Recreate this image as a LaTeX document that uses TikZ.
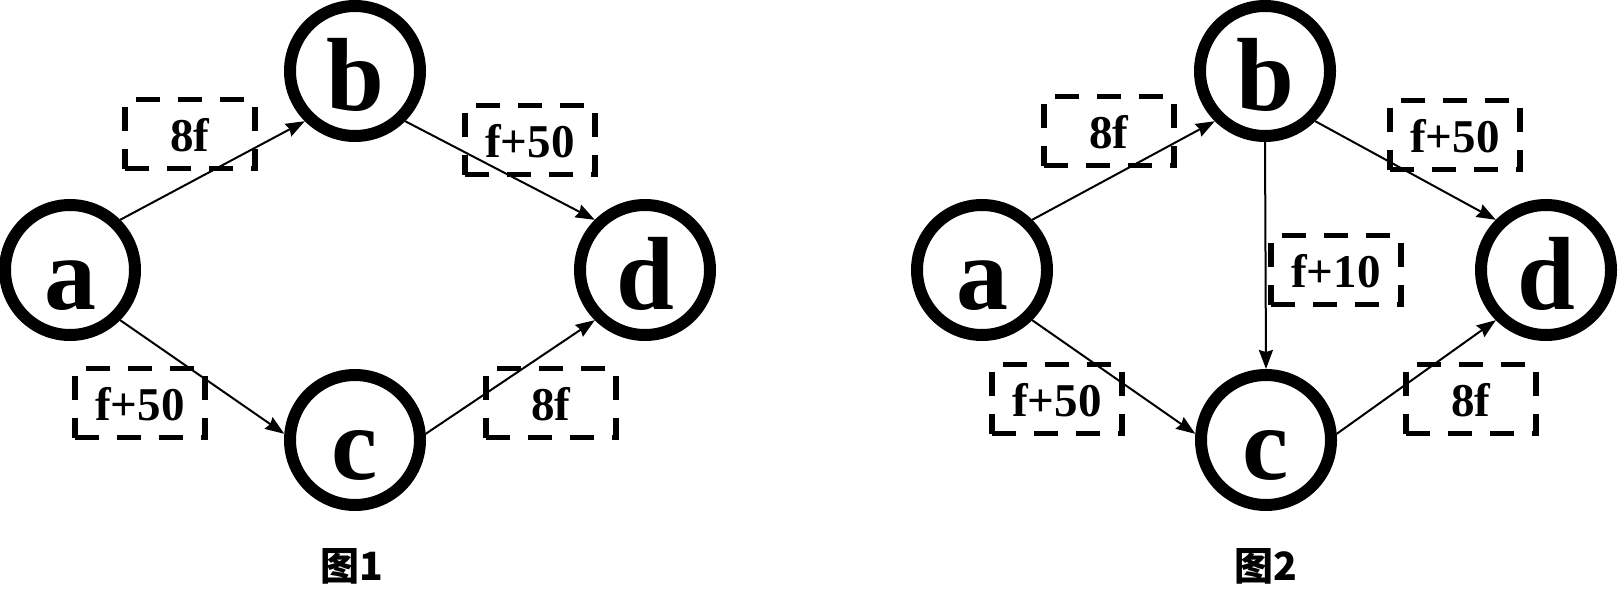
\documentclass[tikz,border=0pt]{standalone}
\usepackage{fontspec}
\setmainfont{Liberation Serif}
\newfontfamily\cjk{Noto Sans CJK SC}
\usetikzlibrary{arrows.meta}
\begin{document}
\begin{tikzpicture}[x=1pt,y=-1pt,
  vert/.style={circle,draw,line width=12pt,minimum size=130pt,inner sep=0pt,
    font=\fontsize{104}{110}\selectfont\bfseries,text height=78pt,text depth=0pt},
  wlabel/.style={draw,line width=5.5pt,dash pattern=on 24pt off 18pt,
    minimum width=130pt,minimum height=69pt,inner sep=0pt,
    font=\fontsize{47}{50}\selectfont\bfseries,text height=34pt,text depth=0pt},
  edge/.style={line width=2pt,-{Stealth[length=19pt,width=14pt,inset=2pt]}},
  figcap/.style={font=\cjk\fontsize{39}{40}\selectfont\bfseries}
]
\useasboundingbox (0,0) rectangle (1624,610);
% ---------- Figure 1 ----------
\node[vert] (a1) at (70,270) {a};
\node[vert] (b1) at (355,71) {b};
\node[vert] (c1) at (355,440) {c};
\node[vert] (d1) at (645,270) {d};
\draw[edge] (a1.north east) -- (b1.south west);
\draw[edge] (a1.south east) -- (c1.175);
\draw[edge] (b1.south east) -- (d1.north west);
\draw[edge] (c1.5) -- (d1.south west);
\node[wlabel] (l1ab) at (190,134) {8f};
\node[wlabel] (l1bd) at (530,140) {f+50};
\node[wlabel] (l1ac) at (140,403) {f+50};
\node[wlabel] (l1cd) at (551,403) {8f};
\node[figcap] (cap1) at (352,566) {图1};
% ---------- Figure 2 ----------
\node[vert] (a2) at (982,270) {a};
\node[vert] (b2) at (1265,71) {b};
\node[vert] (c2) at (1266,440) {c};
\node[vert] (d2) at (1546,270) {d};
\draw[edge] (a2.north east) -- (b2.south west);
\draw[edge] (a2.south east) -- (c2.175);
\draw[edge] (b2.south east) -- (d2.north west);
\draw[edge] (c2.5) -- (d2.south west);
\draw[edge] (b2.south) -- (c2.north);
\node[wlabel] (l2ab) at (1109,131) {8f};
\node[wlabel] (l2bd) at (1455,135) {f+50};
\node[wlabel] (l2bc) at (1336,270) {f+10};
\node[wlabel] (l2ac) at (1057,399) {f+50};
\node[wlabel] (l2cd) at (1471,399) {8f};
\node[figcap] (cap2) at (1266,566) {图2};
\end{tikzpicture}
\end{document}
